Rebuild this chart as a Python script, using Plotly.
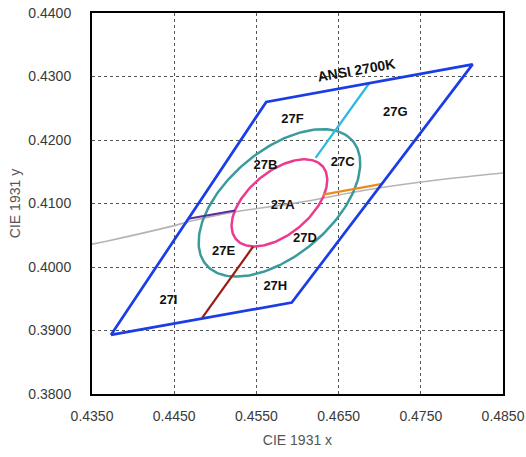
import numpy as np
import plotly.graph_objects as go

# ANSI 2700K quadrangle (x, y), closed
quad_x = [0.4373, 0.4562, 0.4813, 0.4593, 0.4373]
quad_y = [0.3893, 0.4260, 0.4319, 0.3944, 0.3893]

# Planckian locus
locus_x = [0.4350, 0.4369, 0.4440, 0.4476, 0.4520, 0.4599, 0.4687, 0.4770, 0.4850]
locus_y = [0.4036, 0.4041, 0.4062, 0.4074, 0.4086, 0.4101, 0.4122, 0.4137, 0.4148]

# Ellipses: center, semi-axes, angle (deg)
center = (0.4578, 0.4101)
inner_ab = (0.0079, 0.0043)
outer_ab = (0.0134, 0.0072)
ellipse_angle = 53.7

# Segments dividing bins
cyan_x = [0.4622, 0.4687]
cyan_y = [0.4172, 0.4289]
orange_x = [0.4631, 0.4703]
orange_y = [0.4114, 0.4131]
purple_x = [0.4524, 0.4467]
purple_y = [0.4089, 0.4076]
red_x = [0.4546, 0.4484]
red_y = [0.4032, 0.3920]

# Bin labels
bin_names = ["27F", "27G", "27B", "27C", "27A", "27D", "27E", "27H", "27I"]
bin_x = [0.4594, 0.4719, 0.4561, 0.4655, 0.4582, 0.4609, 0.4510, 0.4573, 0.4443]
bin_y = [0.4232, 0.4243, 0.4160, 0.4164, 0.4097, 0.4044, 0.4024, 0.3969, 0.3947]

x_ticks = [0.435, 0.445, 0.455, 0.465, 0.475, 0.485]
y_ticks = [0.38, 0.39, 0.40, 0.41, 0.42, 0.43, 0.44]


def ellipse(c, ab, ang):
    t = np.linspace(0, 2 * np.pi, 200)
    th = np.radians(ang)
    u = ab[0] * np.cos(t)
    v = ab[1] * np.sin(t)
    return c[0] + u * np.cos(th) - v * np.sin(th), c[1] + u * np.sin(th) + v * np.cos(th)


fig = go.Figure()

fig.add_trace(go.Scatter(x=locus_x, y=locus_y, mode="lines",
                         line=dict(color="#b4b4b4", width=1.6, shape="spline"),
                         hoverinfo="skip"))

ox, oy = ellipse(center, outer_ab, ellipse_angle)
fig.add_trace(go.Scatter(x=ox, y=oy, mode="lines", line=dict(color="#3a9a9c", width=2.5)))
ix, iy = ellipse(center, inner_ab, ellipse_angle)
fig.add_trace(go.Scatter(x=ix, y=iy, mode="lines", line=dict(color="#ec3a8e", width=2.5)))

for sx, sy, col in [(cyan_x, cyan_y, "#2bb8e6"), (orange_x, orange_y, "#ee8a1c"),
                    (purple_x, purple_y, "#5b2e9e"), (red_x, red_y, "#9a1c12")]:
    fig.add_trace(go.Scatter(x=sx, y=sy, mode="lines", line=dict(color=col, width=2.2)))

fig.add_trace(go.Scatter(x=quad_x, y=quad_y, mode="lines",
                         line=dict(color="#1a3de6", width=2.7)))

fig.add_trace(go.Scatter(x=bin_x, y=bin_y, mode="text", text=bin_names,
                         textfont=dict(family="Liberation Sans, Arial", size=13, color="#111"),
                         texttemplate="<b>%{text}</b>"))

fig.add_annotation(x=0.4672, y=0.4311, text="<b>ANSI 2700K</b>", showarrow=False,
                   textangle=-10, font=dict(family="Liberation Sans, Arial", size=14, color="#111"))

fig.update_layout(
    width=526, height=457,
    margin=dict(l=92, r=23, t=13, b=63, autoexpand=False),
    paper_bgcolor="white", plot_bgcolor="white",
    showlegend=False,
    font=dict(family="Liberation Sans, Arial", size=14, color="#3a3a3a"),
)
fig.update_xaxes(range=[0.435, 0.485], tickvals=x_ticks, tickformat=".4f",
                 showgrid=True, gridcolor="#555", griddash="dot", gridwidth=1,
                 showline=True, linecolor="black", linewidth=2, mirror=True,
                 zeroline=False, ticks="", ticklabelstandoff=8, automargin=False,
                 title=dict(text="CIE 1931 x", standoff=12, font=dict(size=14, color="#555")))
fig.update_yaxes(range=[0.38, 0.44], tickvals=y_ticks, tickformat=".4f",
                 showgrid=True, gridcolor="#555", griddash="dot", gridwidth=1,
                 showline=True, linecolor="black", linewidth=2, mirror=True,
                 zeroline=False, ticks="", ticklabelstandoff=16, automargin=False,
                 title=dict(text="CIE 1931 y", standoff=4, font=dict(size=14, color="#555")))

fig.write_html("out.html", config={"displayModeBar": False},
               post_script="document.body.style.margin='0';document.body.style.overflow='hidden';")
